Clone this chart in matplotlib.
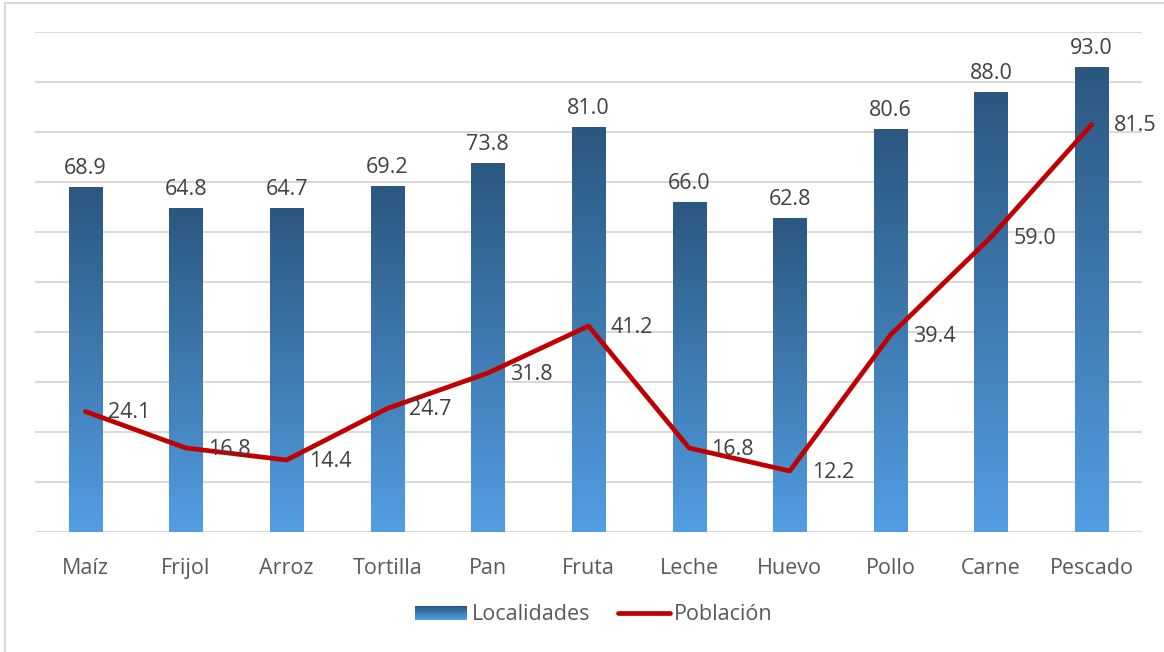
import matplotlib
matplotlib.use("Agg")
import matplotlib.pyplot as plt
from matplotlib.colors import LinearSegmentedColormap
from matplotlib.legend_handler import HandlerBase
from matplotlib.lines import Line2D
from matplotlib.patches import Patch, Rectangle
import numpy as np

plt.rcParams['font.family'] = ['Open Sans', 'DejaVu Sans']

categorias = ['Maíz', 'Frijol', 'Arroz', 'Tortilla', 'Pan', 'Fruta',
              'Leche', 'Huevo', 'Pollo', 'Carne', 'Pescado']
localidades = [68.9, 64.8, 64.7, 69.2, 73.8, 81.0, 66.0, 62.8, 80.6, 88.0, 93.0]
poblacion = [24.1, 16.8, 14.4, 24.7, 31.8, 41.2, 16.8, 12.2, 39.4, 59.0, 81.5]

AZUL_ARRIBA = '#2b5780'
AZUL_ABAJO = '#529ee3'
ROJO = '#c00000'
GRIS_TEXTO = '#404040'
GRIS_EJE = '#595959'
GRIS_REJILLA = '#d9d9d9'
TAM = 15.5

degradado = LinearSegmentedColormap.from_list('azul', [AZUL_ABAJO, AZUL_ARRIBA])


class HandlerDegradado(HandlerBase):
    """Legend swatch drawn as horizontal stripes going from dark to light."""

    def create_artists(self, legend, orig_handle, xdescent, ydescent,
                       width, height, fontsize, trans):
        n = 12
        franjas = []
        for i in range(n):
            r = Rectangle((-xdescent, -ydescent + height * i / n), width,
                          height / n + 0.05, facecolor=degradado(i / (n - 1)),
                          edgecolor='none', transform=trans)
            franjas.append(r)
        return franjas


fig = plt.figure(figsize=(11.64, 6.52), dpi=100)
ax = fig.add_axes([35 / 1164, 1 - 532 / 652, (1142 - 35) / 1164, 500 / 652])

# chart frame (continues past the right and bottom edges)
fig.patches.append(Rectangle((5 / 1164, -0.1), 1.2, 1.1 - 3 / 652,
                             transform=fig.transFigure, fill=False,
                             edgecolor=GRIS_REJILLA, linewidth=1.5, zorder=0))

x = np.arange(len(categorias))
ancho = 0.33
grad = np.linspace(0, 1, 256).reshape(-1, 1)
for xi, v in zip(x, localidades):
    ax.imshow(grad, cmap=degradado, origin='lower', aspect='auto',
              extent=(xi - ancho / 2, xi + ancho / 2, 0, v), zorder=2)
    ax.annotate(f'{v:.1f}', (xi, v), xytext=(0, 6), textcoords='offset points',
                ha='center', va='bottom', fontsize=TAM, color=GRIS_TEXTO)

ax.plot(x, poblacion, color=ROJO, linewidth=3.4, solid_capstyle='round',
        solid_joinstyle='round', zorder=3)
for xi, v in zip(x, poblacion):
    ax.annotate(f'{v:.1f}', (xi, v), xytext=(16, -1), textcoords='offset points',
                ha='left', va='center', fontsize=TAM, color=GRIS_TEXTO, zorder=4)

ax.set_xlim(-0.5, len(categorias) - 0.5)
ax.set_ylim(0, 100)
ax.set_yticks(np.arange(10, 101, 10))
ax.yaxis.grid(True, color=GRIS_REJILLA, linewidth=1.5)
ax.set_axisbelow(True)
ax.axhline(0, color=GRIS_REJILLA, linewidth=1.5, zorder=1)
ax.tick_params(axis='y', left=False, labelleft=False)
ax.set_xticks(x, categorias)
ax.tick_params(axis='x', bottom=False, pad=15, labelsize=TAM, labelcolor=GRIS_EJE)
for s in ax.spines.values():
    s.set_visible(False)

manejadores = [Patch(facecolor=AZUL_ARRIBA),
               Line2D([], [], color=ROJO, linewidth=3.4, solid_capstyle='round')]
fig.legend(manejadores, ['Localidades', 'Población'],
           handler_map={Patch: HandlerDegradado()},
           loc='center', bbox_to_anchor=(594 / 1164, 1 - 615 / 652), ncol=2,
           frameon=False, fontsize=TAM, labelcolor=GRIS_EJE,
           handlelength=2.4, handleheight=0.65, handletextpad=0.2,
           columnspacing=1.3)

fig.savefig('out.png', dpi=100)
